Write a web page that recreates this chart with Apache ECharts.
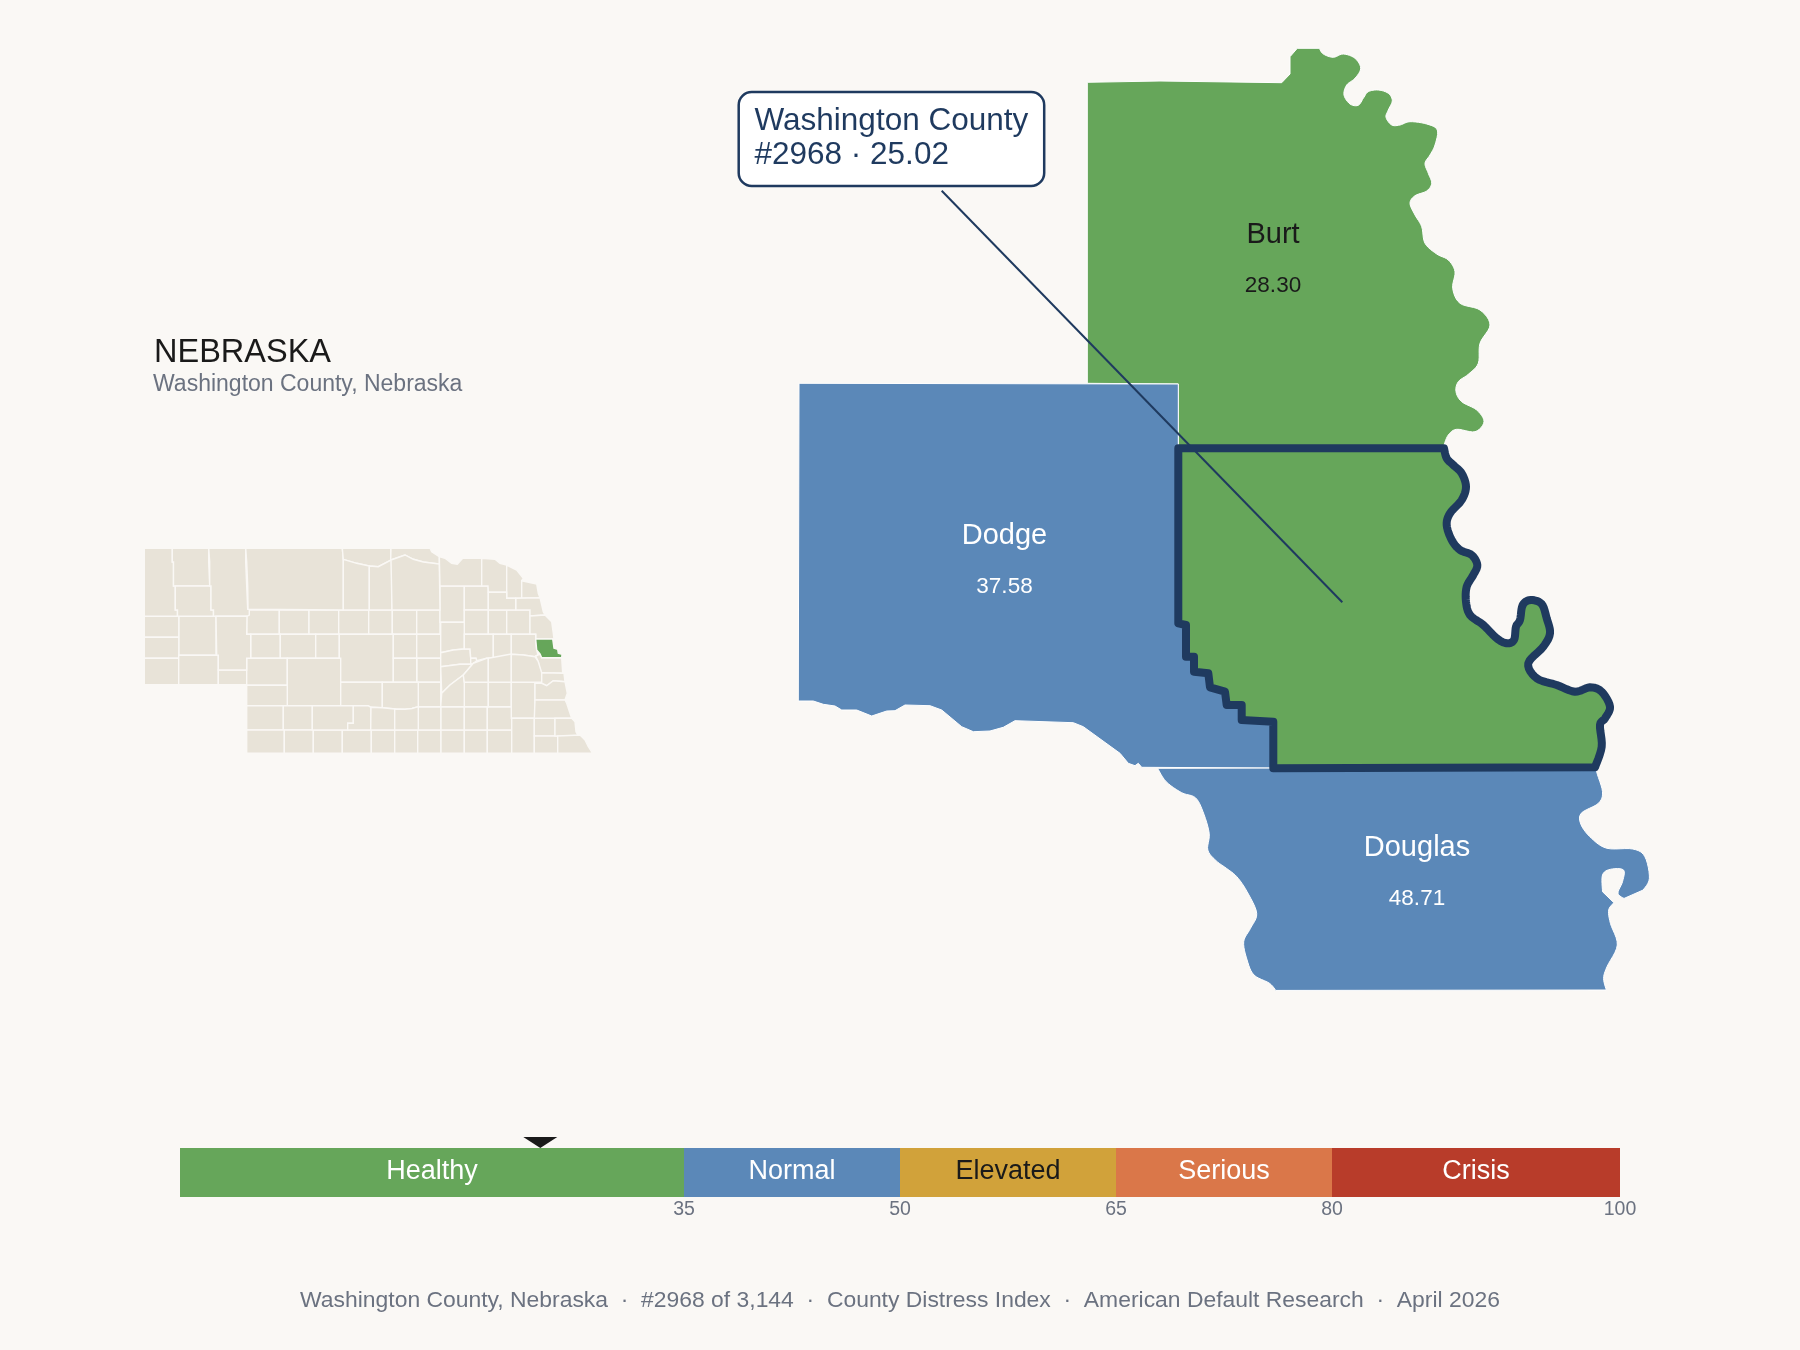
<!DOCTYPE html>
<html>
<head>
<meta charset="utf-8">
<style>html,body{margin:0;padding:0;background:#FAF8F5}#c{width:1800px;height:1350px}</style>
<script src="https://cdn.jsdelivr.net/npm/echarts@6/dist/echarts.min.js"></script>
</head>
<body>
<div id="c"></div>
<script>
// ---- values ----
const countyNames = ['Burt', 'Dodge', 'Douglas', 'Washington'];
const countyValues = [28.30, 37.58, 48.71, 25.02];
const countyBands = [0, 1, 1, 0];
const bandNames = ['Healthy', 'Normal', 'Elevated', 'Serious', 'Crisis'];
const bandSpans = [35, 15, 15, 15, 20];
const bandColors = ['#66A65A', '#5B88B8', '#D1A23A', '#DA7749', '#B83C2A'];
const bandTextColors = ['#FFFFFF', '#FFFFFF', '#1A1A1A', '#FFFFFF', '#FFFFFF'];
const tickValues = [35, 50, 65, 80, 100];
const markerValue = 25.02;
const focusName = 'Washington';
const footerParts = ['Washington County, Nebraska', '#2968 of 3,144', 'County Distress Index', 'American Default Research', 'April 2026'];

// ---- county geometry (map units) ----
const burtRiver = [[1319.3,48.3],[1323.3,54],[1333.3,57.3],[1343.3,54],[1355,58.3],[1360.7,68.3],[1355,78.3],[1346.7,85],[1344,95],[1350,104],[1358.3,105.3],[1363.3,98.3],[1368.3,91.7],[1378.3,90],[1388.3,93.3],[1392.3,100.7],[1388.3,110],[1386,117.3],[1391.7,125],[1400,125],[1410,121.7],[1426.7,124],[1437.3,130],[1435,145],[1430,155],[1425,163.3],[1428.3,173.3],[1431.7,183.3],[1426.7,191],[1415,195.7],[1410,203.3],[1415,215],[1421.7,226.7],[1425,243.3],[1436.7,254],[1448.3,260],[1455,271.7],[1452.7,288.3],[1460,303.3],[1480,310],[1490,325],[1480,343.3],[1478.3,363.3],[1468.3,374.3],[1458.3,381.7],[1456,391.7],[1461.7,401.7],[1476.7,410],[1484,421.7],[1475,431.7],[1456.7,429.3],[1448.3,435],[1444,445]];
const burtCorners = [[1444,449],[1178.3,449],[1178.3,384],[1087.3,383.3],[1087.3,82.3],[1160,81],[1281.7,82.7],[1290,74],[1290,56.7],[1297.3,48.3]];
const washingtonRiver = [[1444,448.3],[1446.7,458.3],[1453.3,465],[1461.7,473.3],[1466,486.7],[1461.7,500],[1450,513.3],[1446.7,525],[1451.7,540],[1460,550],[1471.7,555],[1477.3,565],[1473.3,575],[1466.7,586.7],[1466,601.7],[1470,615],[1483.3,625],[1496.7,638.3],[1506.7,643.3],[1514,640],[1516,626.7],[1520,620],[1522.7,605],[1530.7,600],[1541.7,604],[1546.7,618.3],[1550,633.3],[1543.3,646.7],[1528.3,663.3],[1536.7,678.3],[1556.7,685],[1575,691.7],[1590,687.3],[1601.7,691.7],[1610,706.7],[1605,718.3],[1600,725],[1601.7,746.7],[1595,767.3]];
const washingtonWest = [[1273.3,768.3],[1273.3,721.7],[1241.7,720],[1241.7,705],[1226.7,705],[1225,691.7],[1210,687.3],[1208.3,673.3],[1194,671.7],[1194,656.7],[1186,656.7],[1186,625],[1178.3,623.3],[1178.3,448.3]];
const dodgeNorth = [[1178.3,384],[799,383.3],[798.3,701]];
const dodgeSouth = [[813.3,701],[823.3,704.3],[835,706],[841.7,710],[856.7,710],[871.7,716],[886.7,711],[895,710.7],[905,705],[930,705.7],[941.7,710],[961.7,726.7],[973.3,731.7],[990,731],[1003.3,727.3],[1015,720.7],[1073.3,722.7],[1083.3,726.7],[1120,753.3],[1128.3,763.3],[1135,765.7],[1138.3,763.3],[1141.7,767.3],[1270,768]];
const douglasWest = [[1157.6,768.3],[1166.2,781.7],[1181.7,792.7],[1195.4,797.7],[1203,811.7],[1209.2,833.3],[1207.8,850],[1216.1,860.7],[1226.4,868.3],[1236.8,876.7],[1247.1,891.7],[1256.7,913.3],[1250.5,928.3],[1243.7,941.7],[1247.1,960],[1254,975],[1269.5,983.3],[1276.4,991.3]];
const douglasEastLower = [[1606.3,990],[1603.6,978.3],[1607,966.7],[1617.3,945],[1610.4,923.3],[1608.7,910],[1613.9,902.7]];
const douglasInlet = [[1602.5,891.7],[1602.5,875],[1610.4,869.3],[1623.5,870],[1622.5,881.7],[1618,893.3],[1624.9,899]];
const douglasEastUpper = [[1643.2,890],[1649.4,878.3],[1644.9,856.7],[1632.8,849],[1607,848.3],[1591.5,838.3],[1581.2,825],[1581.2,813.3],[1598.4,803.3],[1602.5,791.7],[1596.7,771.7],[1598.4,766.7]];
const labelAnchors = [[1273,260.5],[1004.5,561],[1417,873.5],[1340,600]];
const leaderEnds = [[941.7,190.7],[1342.3,602.3]];

// ---- inset state geometry (map units): [x0,y0,x1,y1] boxes and outlined polygons ----
const insetBoxes = {
 'Scotts Bluff':[144.3,616.3,179,637.3],'Banner':[144.3,637.3,179,658.3],'Kimball':[144.3,658.3,178.7,684.7],
 'Morrill':[179,616.3,216,655.3],'Cheyenne':[178.7,655.3,218.3,684.7],'Deuel':[218.3,670,246.7,684.7],
 'Grant':[246.7,610,279.3,634.3],'Hooker':[279.3,610,309,634.3],'Thomas':[309,610,338.7,634.3],'Blaine':[338.7,610,368.7,634.3],'Loup':[368.7,610,392.3,634.3],'Garfield':[392.3,610,416.7,634.3],'Wheeler':[416.7,610,440,634.3],
 'Arthur':[250.7,634.3,280.3,658.3],'McPherson':[280.3,634.3,315.7,658.3],'Logan':[315.7,634.3,339.3,658.3],'Custer':[339.3,634.3,393.3,682.3],'Valley':[393.3,634.3,416.7,658.3],'Greeley':[416.7,634.3,440.7,658.3],
 'Sherman':[393.3,658.3,416.7,682.3],'Howard':[417,658.3,440.7,682.3],'Keith':[246.7,658.3,287.3,685.3],'Perkins':[246.7,685.3,288.3,705.7],'Lincoln':[287.3,658.3,340.7,705.7],
 'Chase':[246.7,705.7,283.3,730],'Hayes':[283.3,705.7,312.3,730],
 'Dundy':[246.7,730,284.3,753.3],'Hitchcock':[284.3,730,313.3,753.3],'Red Willow':[313.3,730,342.3,753.3],'Furnas':[342.3,730,371.3,753.3],'Harlan':[371.3,730,394.7,753.3],'Franklin':[394.7,730,417.7,753.3],'Webster':[417.7,730,441,753.3],'Nuckolls':[441,730,464.3,753.3],'Thayer':[464.3,730,487.3,753.3],'Jefferson':[487.3,730,511.7,753.3],
 'Adams':[418.3,706.7,441,730],'Clay':[441,706.7,464.3,730],'Fillmore':[464.3,706.7,487.3,730],'Saline':[487.3,706.7,511.7,730],
 'Buffalo East':[418.3,682.3,440.7,706.7],'York':[464.3,682.3,488.3,706.7],'Seward':[488.3,682.3,511.3,706.7],
 'Antelope':[440,586,464.3,622.3],'Pierce':[464.3,586,488.3,610],'Madison':[464.3,610,488.3,634.3],'Stanton':[488.3,610,506.7,634.3],'Cuming':[506.7,610,530,634.3],
 'Lancaster':[511.3,682.3,535,718.3],'Gage':[511.7,718.3,534.3,753.3],'Johnson':[534.3,718.3,555,736],'Pawnee':[534.3,736,557.7,753.3]
};
const insetPolys = {
 'Sioux':[[144.3,548.3],[172.3,548.3],[172.3,562],[173.5,562],[173.5,586],[175.3,586],[175.3,610],[177.5,610],[177.5,616.3],[144.3,616.3]],
 'Dawes':[[172.3,548.3],[208.7,548.3],[208.7,562],[209.7,562],[209.7,586],[173.5,586],[173.5,562],[172.3,562]],
 'Box Butte':[[175.3,586],[211,586],[211,610],[213.5,610],[213.5,616.3],[177.5,616.3],[177.5,610],[175.3,610]],
 'Sheridan':[[208.7,548.3],[245.7,548.3],[245.7,562],[246.7,562],[246.7,586],[247.7,586],[247.7,609],[249.3,609],[249.3,615],[247,616.3],[213.5,616.3],[213.5,610],[211,610],[211,586],[209.7,586],[209.7,562],[208.7,562]],
 'Garden':[[216,616.3],[247,616.3],[246.7,634.3],[250.7,634.3],[250.7,658.3],[246.7,658.3],[246.7,670],[218.3,670],[218.3,655.3],[216.7,655.3]],
 'Cherry':[[245.7,548.3],[342.3,548.3],[343.3,560],[343.3,610],[248,609.3],[247.7,586],[246.7,586],[246.7,562],[245.7,562]],
 'Keya Paha':[[342.3,548.3],[390.7,548.3],[390.7,560],[378.3,566.7],[369.3,566],[356.7,563.3],[343.3,559.3]],
 'Brown':[[343.3,559.3],[356.7,563.3],[369.3,566],[369.3,610],[343.3,610]],
 'Rock':[[369.3,566],[378.3,566.7],[391.5,560],[392,610],[369.3,610]],
 'Boyd':[[391,548.3],[430,548.3],[431.7,551.7],[439.3,556.7],[439.3,564],[423.3,562],[413.3,559.3],[405,555],[390.7,560]],
 'Holt':[[391,560],[405,555],[413.3,559.3],[423.3,562],[439.3,564],[440,610],[392,610]],
 'Dawson':[[340.7,682.3],[382.3,682.3],[382.3,707.7],[371,707.3],[368,705.7],[340.7,705.7]],
 'Buffalo':[[382.3,682.3],[418.3,682.3],[418.3,706.7],[412,708.5],[405,709.3],[395,709],[382.3,707.7]],
 'Frontier':[[312.3,705.7],[353.3,705.7],[353.3,723.3],[347.7,723.3],[347.7,730],[312.3,730]],
 'Gosper':[[353.3,705.7],[368,705.7],[371,707.3],[370.7,730],[347.7,730],[347.7,723.3],[353.3,723.3]],
 'Phelps':[[371,707.3],[382.3,707.7],[395,709],[394.7,730],[370.7,730]],
 'Kearney':[[394.7,709],[405,709.3],[412,708.5],[418.3,706.7],[418.3,730],[394.7,730]],
 'Knox':[[439.3,556.7],[445,558.3],[451.7,563.3],[457.3,564.3],[462.7,558.3],[481.7,558.3],[481.7,586],[440,586]],
 'Cedar':[[481.7,558.3],[495,559.3],[500,563.3],[506.7,565],[506.7,592.3],[488.3,592.3],[488,586],[481.7,586]],
 'Dixon':[[506.7,565],[516.7,570],[523.3,578.3],[521.7,580.7],[521.7,598.3],[506.7,598.3]],
 'Dakota':[[521.7,580.7],[536.7,584],[538.3,593.3],[540,597.7],[521.7,598.3]],
 'Thurston':[[515.7,598.3],[540,597.7],[543.3,611.7],[545,615],[530,616],[530,610],[515.7,610]],
 'Wayne':[[488.3,592.3],[506.7,592.3],[506.7,598.3],[515.7,598.3],[515.7,610],[488.3,610]],
 'Burt':[[530,616],[545,615],[551.7,621.7],[553.3,633.3],[554,639],[535.7,639],[535.7,634.3],[530,634.3]],
 'Boone':[[440.7,622.3],[464.3,622.3],[464.3,649],[453.3,650],[440.7,652.7]],
 'Nance':[[440.7,652.7],[453.3,650],[464.3,649],[470,649],[470.7,658.3],[470.7,664.3],[460,664.3],[440.7,666.7]],
 'Platte':[[464.3,634.3],[493.3,634.3],[493.3,657.7],[486.7,658.3],[476.7,660.7],[476,658.3],[470.7,658.3],[470,649],[464.3,649]],
 'Merrick':[[470.7,658.3],[476,658.3],[476.7,660.7],[473.3,663.3],[470.7,664.3]],
 'Colfax':[[493.3,634.3],[511.3,634.3],[511.3,654.3],[501.7,657.7],[493.3,657.7]],
 'Dodge':[[511.3,634.3],[535.7,634.3],[535.7,639],[536.7,650],[538,655],[535,656.7],[523.3,655],[511.3,654.3]],
 'Hamilton':[[440.7,666.7],[460,664.3],[470.7,664.3],[473.3,663.3],[463.3,675],[450,685],[441.7,693.3]],
 'Hall':[[441.7,693.3],[450,685],[463.3,675],[464.3,682.3],[464.3,706.7],[440.7,706.7]],
 'Polk':[[463.3,675],[473.3,663.3],[486.7,658.3],[488.3,658.3],[488.3,682.3],[464.3,682.3]],
 'Butler':[[488.3,658.3],[510,654.3],[511.3,654.3],[511.3,682.3],[488.3,682.3]],
 'Douglas':[[535.7,656],[540,654],[541.7,657.7],[561.7,657.7],[562.7,673.3],[541.7,672.7],[540,670],[538.3,661.7]],
 'Saunders':[[511.3,654.3],[523.3,655],[535,656.7],[538.3,661.7],[541.7,672.7],[541.7,682.3],[511.3,682.3]],
 'Sarpy':[[541.7,672.7],[564,673.3],[565,681.7],[553.3,680.7],[546.7,685.7],[541.7,683.3]],
 'Cass':[[535,683.3],[541.7,683.3],[546.7,685.7],[553.3,680.7],[565,681.7],[567.3,693.3],[565,700],[535,700]],
 'Otoe':[[535,700],[565,700],[566.7,703.3],[570,713.3],[571.7,718.3],[534.3,718.3]],
 'Nemaha':[[555,718.3],[571.7,718.3],[575,721.7],[576,731.7],[578.3,736],[555,736]],
 'Richardson':[[557.7,736],[580,735],[585,740],[588.3,746.7],[592.7,753.3],[557.7,753.3]],
 'Washington':[[535.7,639],[552.7,639],[554,648.3],[557.7,649.3],[558.3,653.3],[562,654.3],[561.7,657.7],[541.7,657.7],[540,654],[536.7,650]]
};

// ---- geometry helpers ----
function smooth(run) {
  const out = [];
  for (let i = 0; i < run.length - 1; i++) {
    const p0 = run[Math.max(i - 1, 0)], p1 = run[i], p2 = run[i + 1], p3 = run[Math.min(i + 2, run.length - 1)];
    for (let k = 0; k < 6; k++) {
      const t = k / 6, t2 = t * t, t3 = t2 * t;
      out.push([0, 1].map(d => 0.5 * (2 * p1[d] + (p2[d] - p0[d]) * t + (2 * p0[d] - 5 * p1[d] + 4 * p2[d] - p3[d]) * t2 + (3 * p1[d] - p0[d] - 3 * p2[d] + p3[d]) * t3)));
    }
  }
  out.push(run[run.length - 1]);
  return out;
}
function feature(name, ring, cp) {
  const closed = ring.concat([ring[0]]);
  return { type: 'Feature', properties: cp ? { name, cp } : { name }, geometry: { type: 'Polygon', coordinates: [closed] } };
}
const detailRings = {
  Burt: smooth(burtRiver).concat(burtCorners),
  Dodge: dodgeNorth.concat(dodgeSouth, washingtonWest),
  Douglas: smooth(douglasWest).concat(smooth(douglasEastLower), smooth(douglasInlet), smooth(douglasEastUpper)),
  Washington: smooth(washingtonRiver).concat(washingtonWest)
};
const identity = { project: p => p, unproject: p => p };
echarts.registerMap('detail', { type: 'FeatureCollection', features: countyNames.map((n, i) => feature(n, detailRings[n], labelAnchors[i])) });
const stateFeatures = [];
Object.keys(insetBoxes).forEach(n => { const b = insetBoxes[n]; stateFeatures.push(feature(n, [[b[0], b[1]], [b[2], b[1]], [b[2], b[3]], [b[0], b[3]]])); });
Object.keys(insetPolys).forEach(n => stateFeatures.push(feature(n, insetPolys[n])));
echarts.registerMap('state', { type: 'FeatureCollection', features: stateFeatures });

const FONT = '"Liberation Sans", Arial, sans-serif';
const NAVY = '#1F3A5F', INK = '#1A1A1A', GREY = '#6B7280';
const page = [[0, 0], [1800, 1350]];

const chart = echarts.init(document.getElementById('c'), null, { renderer: 'canvas' });
chart.setOption({
  animation: false,
  backgroundColor: '#FAF8F5',
  geo: [
    {
      map: 'state', projection: identity, boundingCoords: page, left: 0, top: 0, width: 1800, height: 1350, silent: true, roam: false,
      itemStyle: { areaColor: '#E8E3D8', borderColor: '#FAF8F5', borderWidth: 1.4 },
      regions: [{ name: focusName, itemStyle: { areaColor: bandColors[0] } }]
    },
    {
      map: 'detail', projection: identity, boundingCoords: page, left: 0, top: 0, width: 1800, height: 1350, silent: true, roam: false,
      itemStyle: { areaColor: bandColors[0], borderColor: '#FFFFFF', borderWidth: 1, borderJoin: 'round' },
      regions: countyNames.map((n, i) => {
        const focus = n === focusName;
        const ink = countyBands[i] !== 0 ? '#FFFFFF' : INK;
        return {
          name: n,
          itemStyle: focus
            ? { areaColor: bandColors[countyBands[i]], borderColor: NAVY, borderWidth: 8, borderJoin: 'round' }
            : { areaColor: bandColors[countyBands[i]], borderColor: '#FFFFFF', borderWidth: 1 },
          label: focus ? { show: false } : {
            show: true,
            formatter: () => '{n|' + n + '}\n{v|' + countyValues[i].toFixed(2) + '}',
            rich: {
              n: { fontFamily: FONT, fontSize: 29, lineHeight: 51, color: ink },
              v: { fontFamily: FONT, fontSize: 22.5, lineHeight: 51, color: ink }
            }
          }
        };
      })
    }
  ],
  grid: { left: 180, top: 1148, width: 1440, height: 49, containLabel: false },
  xAxis: {
    type: 'value', min: 0, max: 100,
    axisLine: { show: false }, axisTick: { show: false }, splitLine: { show: false },
    axisLabel: { customValues: tickValues, color: GREY, fontFamily: FONT, fontSize: 19.5, margin: 3 }
  },
  yAxis: { type: 'category', data: ['scale'], show: false },
  series: bandNames.map((b, i) => ({
    type: 'bar', name: b, stack: 'scale', barWidth: 49, silent: true,
    data: [bandSpans[i]],
    itemStyle: { color: bandColors[i] },
    label: { show: true, position: 'inside', formatter: b, color: bandTextColors[i], fontFamily: FONT, fontSize: 27, offset: [0, -1] }
  })).concat([
    {
      type: 'scatter', silent: true, z: 5,
      data: [[markerValue, 0]],
      symbol: 'path://M0 0L34 0L17 11Z', symbolSize: [34, 11], symbolOffset: [0, -30],
      itemStyle: { color: INK, opacity: 1 }
    },
    {
      type: 'lines', coordinateSystem: 'geo', geoIndex: 1, silent: true, z: 6,
      data: [{ coords: leaderEnds }],
      lineStyle: { color: NAVY, width: 2, opacity: 1 }
    }
  ]),
  graphic: [
    { type: 'text', left: 154, top: 336.5, silent: true, style: { text: 'NEBRASKA', font: '32.5px ' + FONT, fill: INK } },
    { type: 'text', left: 153, top: 373.5, silent: true, style: { text: 'Washington County, Nebraska', font: '23px ' + FONT, fill: GREY } },
    { type: 'rect', silent: true, z: 10, shape: { x: 738.7, y: 92, width: 305.5, height: 94, r: 13 }, style: { fill: '#FFFFFF', stroke: NAVY, lineWidth: 2.5 } },
    { type: 'text', silent: true, z: 11, x: 754.5, y: 104, style: { text: 'Washington County\n#2968 \u00B7 25.02', font: '31.5px ' + FONT, fill: NAVY, lineHeight: 34 } },
    { type: 'text', silent: true, left: 'center', top: 1289, style: { text: footerParts.join('\u00A0\u00A0\u00B7\u00A0\u00A0'), font: '22.9px ' + FONT, fill: GREY } }
  ]
});
</script>
</body>
</html>
